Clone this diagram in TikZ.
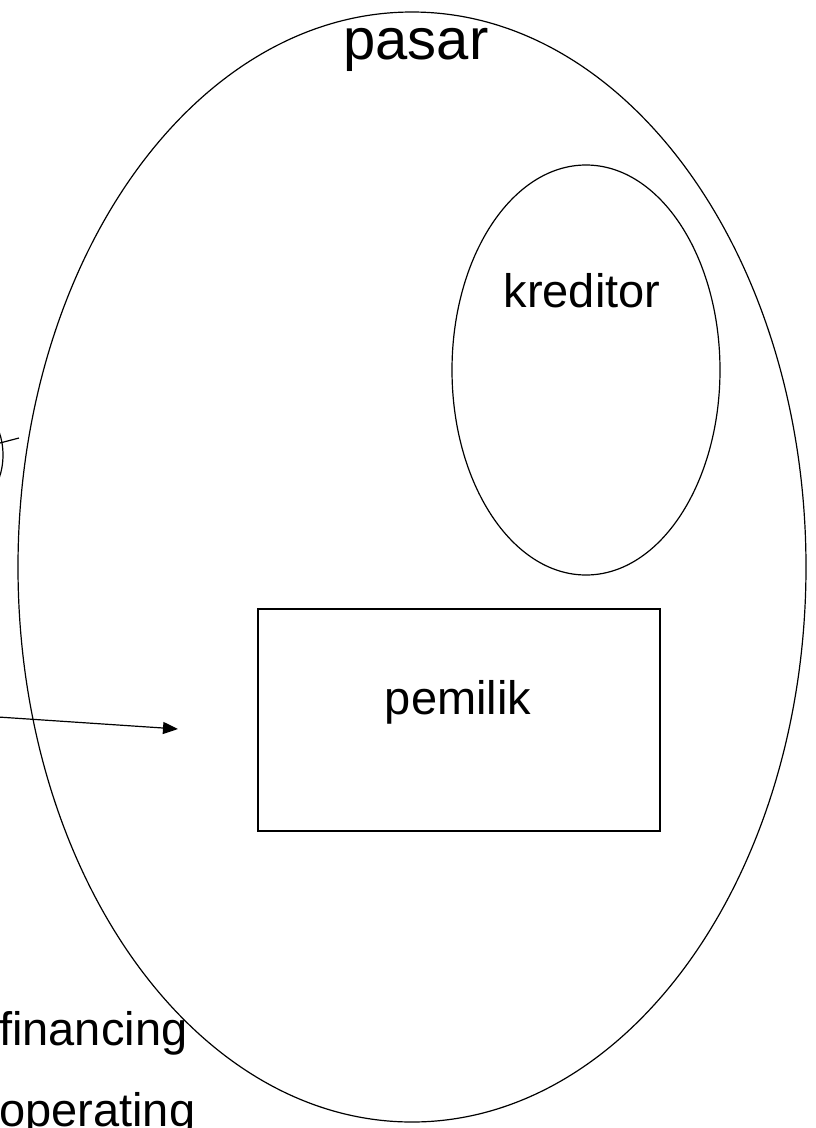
\documentclass[tikz,border=0pt]{standalone}
\usepackage{fontspec}
\setmainfont{Liberation Sans}
\usetikzlibrary{shapes.geometric,arrows.meta}

\tikzset{
  outline/.style={draw=black, line width=1.2pt, inner sep=0pt},
  oval/.style={outline, ellipse},
  lbl/.style={inner sep=0pt, anchor=base, font=\fontsize{47}{56}\selectfont},
  leftlbl/.style={lbl, anchor=base west},
  flow/.style={draw=black, line width=1.2pt, -{Triangle[length=15pt,width=12pt]}}
}

\begin{document}
\begin{tikzpicture}[x=1pt, y=-1pt]
  \useasboundingbox (0,0) rectangle (815,1128);
  \clip (0,0) rectangle (815,1128);

  % market as the outer oval
  \node[oval, minimum width=788pt, minimum height=1110pt] (market) at (412,567) {};
  \node[lbl, font=\fontsize{58}{68}\selectfont] (marketlbl) at (416,59) {pasar};

  % creditors
  \node[oval, minimum width=268pt, minimum height=410pt] (creditor) at (586,370) {};
  \node[lbl] (creditorlbl) at (582,307) {kreditor};

  % owners
  \node[outline, line width=1.5pt, minimum width=402pt, minimum height=222pt] (owner) at (459,720) {};
  \node[lbl] (ownerlbl) at (458,714) {pemilik};

  % partly visible oval on the left with its line
  \node[oval, minimum width=100pt, minimum height=120pt] (side) at (-47,455) {};
  \coordinate (tickA) at (-10,445.6);
  \coordinate (tickB) at (19,438);
  \draw[line width=1.2pt] (tickA) -- (tickB);

  % flow into the market
  \coordinate (flowS) at (-2,717);
  \coordinate (flowE) at (178,729);
  \draw[flow] (flowS) -- (flowE);

  % activity labels
  \node[leftlbl] (fin) at (-1,1045) {financing};
  \node[leftlbl] (ops) at (-1,1126) {operating};
\end{tikzpicture}
\end{document}
